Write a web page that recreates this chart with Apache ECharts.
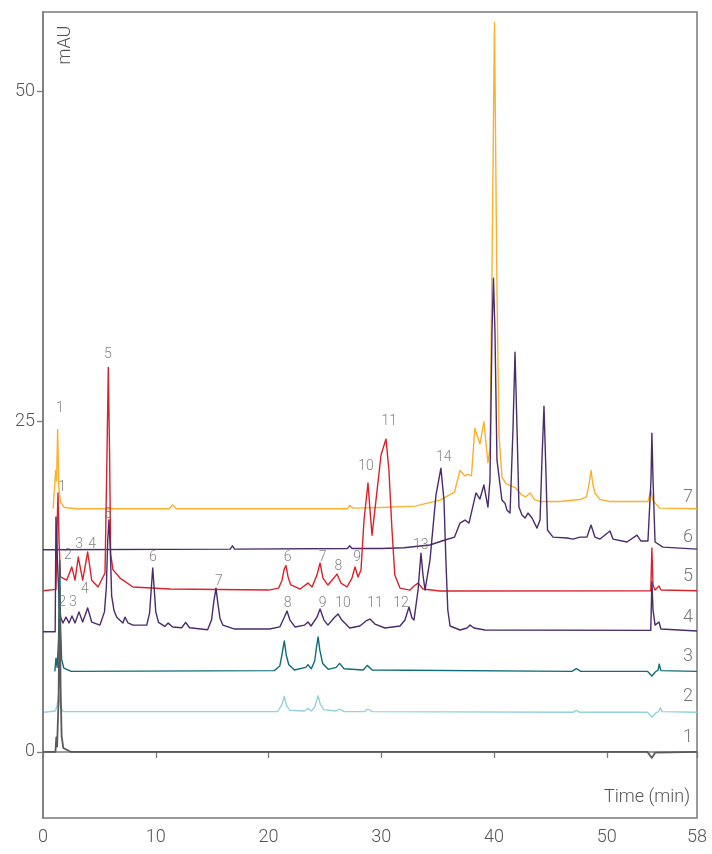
<!DOCTYPE html>
<html>
<head>
<meta charset="utf-8">
<script src="https://cdn.jsdelivr.net/npm/echarts@6/dist/echarts.min.js"></script>
<style>
  html, body { margin: 0; padding: 0; background: #fff; }
  #chart { width: 712px; height: 854px; }
</style>
</head>
<body>
<div id="chart"></div>
<script>
// chromatogram traces, [time (min), mAU]
const trace1 = [[0,0],[1.1,0],[1.18,1.1],[1.25,0.4],[1.38,4],[1.48,12.5],[1.56,5],[1.65,1.2],[1.8,0.3],[2.5,0],[53.6,0],[54.0,-0.45],[54.3,-0.05],[58,0]];
const trace2 = [[0.1,3.0],[1.1,3.1],[1.25,3.5],[1.4,4.4],[1.55,3.4],[1.8,3.05],[20.8,3.05],[21.2,3.6],[21.4,4.2],[21.6,3.5],[21.9,3.15],[23.2,3.1],[23.5,3.3],[23.8,3.1],[24.1,3.4],[24.4,4.25],[24.6,3.6],[24.9,3.2],[26.0,3.1],[26.3,3.25],[26.7,3.05],[28.5,3.05],[28.8,3.25],[29.2,3.05],[47.0,3.0],[47.3,3.15],[47.6,3.0],[53.6,3.0],[54.0,2.65],[54.35,2.95],[54.6,3.05],[54.75,3.35],[54.9,3.05],[58,3.0]];
const trace3 = [[1.05,6.1],[1.15,7.1],[1.25,6.4],[1.38,8.5],[1.48,14.5],[1.56,9.5],[1.65,7.0],[1.85,6.35],[2.5,6.1],[20.5,6.15],[21.0,6.5],[21.2,7.4],[21.4,8.4],[21.58,7.3],[21.8,6.6],[22.3,6.2],[23.3,6.4],[23.5,6.6],[23.8,6.3],[24.1,6.9],[24.25,7.9],[24.4,8.7],[24.55,7.7],[24.8,6.7],[25.3,6.25],[26.0,6.4],[26.3,6.7],[26.7,6.3],[28.4,6.2],[28.75,6.55],[29.2,6.2],[46.9,6.1],[47.3,6.3],[47.7,6.1],[53.6,6.1],[54.0,5.75],[54.3,6.05],[54.55,6.2],[54.65,6.65],[54.8,6.15],[58,6.1]];
const trace4 = [[0,9.1],[1.08,9.1],[1.15,17.78],[1.3,14.0],[1.45,11.0],[1.57,10.2],[1.77,9.76],[2.04,10.2],[2.31,9.76],[2.57,10.29],[2.84,9.76],[3.19,10.6],[3.52,9.83],[3.96,10.9],[4.32,9.83],[5.05,9.6],[5.45,10.6],[5.62,12.5],[5.74,16.0],[5.85,17.55],[5.96,15.5],[6.09,11.8],[6.3,10.7],[6.54,10.2],[7.09,9.76],[7.27,10.2],[7.54,9.76],[7.98,9.6],[9.2,9.6],[9.45,10.5],[9.6,12.3],[9.73,13.92],[9.86,12.4],[10.0,10.6],[10.25,9.8],[10.8,9.5],[11.1,9.75],[11.5,9.45],[12.3,9.4],[12.65,9.8],[13.0,9.4],[14.6,9.25],[14.95,10.0],[15.15,11.4],[15.34,12.4],[15.5,11.3],[15.7,10.1],[15.95,9.6],[17.0,9.3],[20.1,9.3],[21.0,9.46],[21.37,10.14],[21.64,10.67],[21.9,9.98],[22.35,9.46],[23.2,9.6],[23.5,9.83],[23.77,9.53],[24.3,10.2],[24.57,10.82],[24.92,9.98],[25.27,9.6],[25.8,10.14],[26.16,10.44],[26.5,9.98],[27.2,9.38],[28.1,9.53],[28.65,9.91],[29.0,10.06],[29.44,9.68],[30.33,9.38],[31.66,9.53],[32.1,9.98],[32.46,10.97],[32.72,10.14],[32.9,9.98],[33.26,12.25],[33.52,15.05],[33.7,13.39],[33.88,12.25],[34.32,14.52],[34.85,19.44],[35.29,21.48],[35.56,19.06],[35.73,14.52],[35.9,10.74],[36.1,9.53],[36.98,9.23],[37.6,9.38],[37.87,9.6],[38.22,9.38],[39.2,9.23],[53.9,9.2],[54.0,12.86],[54.1,10.74],[54.28,9.6],[54.63,9.83],[54.8,9.3],[58,9.15]];
const trace5 = [[0,12.2],[1.15,12.3],[1.25,17],[1.33,19.6],[1.42,16],[1.55,13.24],[2.1,13.0],[2.55,14.0],[2.84,13.0],[3.13,14.75],[3.52,13.0],[3.96,15.13],[4.32,13.0],[4.88,12.48],[5.5,13.54],[5.68,22.8],[5.79,29.1],[5.9,22.8],[6.0,15.0],[6.2,13.8],[6.83,13.16],[7.98,12.48],[11.26,12.33],[20.0,12.25],[20.9,12.4],[21.2,13.0],[21.38,13.8],[21.55,14.1],[21.72,13.3],[21.95,12.66],[22.8,12.33],[23.5,12.78],[23.86,12.48],[24.3,13.4],[24.57,14.3],[24.83,13.16],[25.27,12.63],[25.8,13.16],[26.07,13.46],[26.43,12.78],[26.96,12.48],[27.4,13.16],[27.67,14.0],[27.94,13.24],[28.2,13.77],[28.47,17.55],[28.82,20.35],[29.0,18.3],[29.18,16.4],[29.53,19.06],[29.98,22.47],[30.42,23.68],[30.68,21.3],[30.95,16.8],[31.2,13.39],[31.66,12.4],[32.55,12.25],[32.9,12.56],[33.26,12.78],[33.7,12.33],[35.2,12.18],[53.9,12.2],[54.0,15.43],[54.1,12.63],[54.28,12.25],[54.63,12.56],[54.8,12.25],[58,12.2]];
const trace6 = [[0,15.3],[16.6,15.35],[16.8,15.6],[17.0,15.35],[27.0,15.4],[27.2,15.6],[27.4,15.4],[30.0,15.4],[32.0,15.45],[34.3,15.66],[35.65,16.04],[36.5,16.26],[36.98,17.32],[37.42,17.55],[37.78,17.32],[38.4,19.6],[38.75,19.14],[39.1,20.2],[39.46,18.53],[39.64,20.6],[39.82,31.9],[39.95,35.85],[40.08,31.9],[40.26,22.1],[40.7,19.06],[40.97,18.83],[41.15,18.3],[41.42,18.08],[41.68,24.4],[41.86,30.26],[42.04,24.4],[42.21,18.53],[42.48,17.93],[42.75,17.7],[43.01,18.08],[43.37,17.7],[43.54,17.85],[43.81,16.94],[44.08,17.55],[44.25,22.1],[44.43,26.17],[44.6,21.3],[44.74,16.8],[45.23,16.26],[46.47,16.19],[47.0,16.11],[47.62,16.26],[48.24,16.26],[48.6,17.17],[48.95,16.26],[49.4,16.11],[50.28,16.72],[50.55,16.11],[51.79,15.89],[52.68,16.41],[53.03,15.96],[53.65,15.96],[53.92,20.6],[54.0,24.13],[54.1,20.6],[54.28,15.89],[54.98,15.5],[58,15.35]];
const trace7 = [[0.9,18.4],[1.0,18.4],[1.12,21.3],[1.2,20.5],[1.3,24.4],[1.4,20.0],[1.55,18.9],[1.9,18.5],[3.0,18.4],[11.2,18.4],[11.5,18.7],[11.8,18.4],[27.0,18.4],[27.2,18.65],[27.5,18.45],[30.0,18.5],[33.0,18.6],[35.2,19.06],[36.5,19.67],[36.98,21.3],[37.4,20.9],[37.7,21.0],[38.0,20.9],[38.3,24.5],[38.75,23.3],[39.1,25.0],[39.46,21.9],[39.64,23.0],[39.8,35.0],[40.04,55.2],[40.26,35.0],[40.44,24.0],[40.7,20.8],[41.06,20.3],[41.6,20.1],[41.9,20.0],[42.4,19.5],[42.8,19.3],[43.2,19.6],[43.6,19.1],[44.1,18.95],[45.85,18.95],[47.6,19.1],[48.2,19.3],[48.45,20.4],[48.6,21.3],[48.78,20.2],[48.95,19.6],[49.4,19.1],[50.3,18.95],[53.65,18.95],[53.9,19.8],[54.1,19.0],[54.7,18.45],[58,18.4]];

// peak number labels [time, mAU, text]
const peakLabels7 = [[1.5,26.0,'1']];
const peakLabels5 = [[1.7,20.0,'1'],[2.2,14.9,'2'],[3.2,15.7,'3'],[4.35,15.7,'4'],[5.76,30.1,'5'],[21.7,14.7,'6'],[24.8,14.75,'7'],[26.2,14.0,'8'],[27.85,14.75,'9'],[28.65,21.6,'10'],[30.7,25.0,'11']];
const peakLabels4 = [[1.7,11.3,'2'],[2.65,11.3,'3'],[3.72,12.3,'4'],[5.76,17.95,'5'],[9.75,14.7,'6'],[15.6,12.9,'7'],[21.7,11.25,'8'],[24.8,11.25,'9'],[26.6,11.25,'10'],[29.45,11.25,'11'],[31.75,11.25,'12'],[33.5,15.6,'13'],[35.55,22.3,'14']];
// trace numbers at right end
const traceLabels = [[57.2,1.13,'1'],[57.2,4.16,'2'],[57.2,7.19,'3'],[57.2,10.2,'4'],[57.2,13.24,'5'],[57.2,16.26,'6'],[57.2,19.29,'7']];

const xTicks = [0, 10, 20, 30, 40, 50, 58];
const yTicks = [0, 25, 50];

const colors = {
  t1: '#5a5a5a', t2: '#93d2de', t3: '#106c7b', t4: '#4a2c6c',
  t5: '#d9222c', t6: '#4a2c6c', t7: '#fbb033'
};
const txt = '#555';
const font = 'Roboto';

const chart = echarts.init(document.getElementById('chart'));

function line(data, color, width) {
  return {
    type: 'line', data: data, showSymbol: false, symbol: 'none',
    lineStyle: { color: color, width: width || 1.4, join: 'round' },
    animation: false, silent: true
  };
}
function labels(data, size) {
  return {
    type: 'scatter', data: data, symbolSize: 0, silent: true, animation: false,
    label: {
      show: true, position: 'inside', formatter: p => p.value[2],
      color: size > 15 ? txt : '#666', fontSize: size, fontFamily: font, fontWeight: 300
    },
    z: 5
  };
}

chart.setOption({
  backgroundColor: '#fff',
  grid: { left: 43, right: 15, top: 12, bottom: 36, show: true, borderColor: '#7a7a7a', borderWidth: 1.5 },
  xAxis: {
    type: 'value', min: 0, max: 58,
    axisLine: { show: true, lineStyle: { color: '#7a7a7a', width: 1.5 } },
    axisTick: { show: true, length: 6, customValues: xTicks, lineStyle: { color: '#7a7a7a', width: 1.3 } },
    axisLabel: { customValues: xTicks, color: txt, fontSize: 18, fontFamily: font, fontWeight: 300, margin: 10 },
    splitLine: { show: false }
  },
  yAxis: {
    type: 'value', min: -5, max: 56,
    axisLine: { show: true, lineStyle: { color: '#7a7a7a', width: 1.5 } },
    axisTick: { show: true, length: 6, customValues: yTicks, lineStyle: { color: '#7a7a7a', width: 1.3 } },
    axisLabel: { customValues: yTicks, color: txt, fontSize: 18, fontFamily: font, fontWeight: 300, margin: 8 },
    splitLine: { show: false }
  },
  graphic: [
    { type: 'text', x: 65, y: 45, rotation: Math.PI / 2,
      style: { text: 'mAU', fill: txt, fontSize: 18, fontFamily: font, fontWeight: 300, align: 'center', verticalAlign: 'middle' } },
    { type: 'text', x: 690, y: 797,
      style: { text: 'Time (min)', fill: txt, fontSize: 18, fontFamily: font, fontWeight: 300, align: 'right', verticalAlign: 'middle' } }
  ],
  series: [
    line(trace7, colors.t7),
    line(trace6, colors.t6),
    line(trace5, colors.t5),
    line(trace4, colors.t4),
    line(trace3, colors.t3),
    line(trace2, colors.t2),
    line(trace1, colors.t1, 1.8),
    labels(peakLabels7, 14),
    labels(peakLabels5, 14),
    labels(peakLabels4, 14),
    labels(traceLabels, 18)
  ]
});
</script>
</body>
</html>
